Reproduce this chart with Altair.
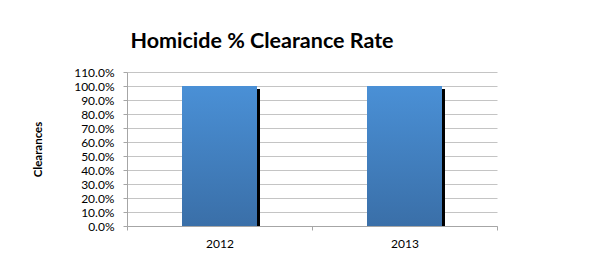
import altair as alt
import pandas as pd

years = ["2012", "2013"]
rates = [1.0, 1.0]

df = pd.DataFrame({"year": years, "rate": rates})

FONT = "Lato"

x = alt.X("year:N", title=None, sort=years,
          scale=alt.Scale(paddingInner=0, paddingOuter=0),
          axis=alt.Axis(labelAngle=0, tickBand="extent", labelPadding=8,
                        tickSize=4, tickColor="#a6a6a6", domainColor="#a6a6a6",
                        labelFontSize=12, labelColor="#000000", labelFont=FONT,
                        grid=False))
y = alt.Y("rate:Q", title="Clearances",
          scale=alt.Scale(domain=[0, 1.1], nice=False),
          axis=alt.Axis(format=".1%", values=[i / 10 for i in range(12)],
                        tickSize=4, tickColor="#a6a6a6", domainColor="#a6a6a6",
                        gridColor="#c4c4c4", labelPadding=9,
                        labelFontSize=12, labelColor="#000000", labelFont=FONT,
                        titleFont=FONT, titleFontSize=11.5, titleFontWeight="bold",
                        titleColor="#000000", titleX=-89, titleY=77,
                        titleAngle=-90, titleBaseline="middle", titleAlign="center"))

shadow = alt.Chart(df).mark_bar(color="#000000", size=75, xOffset=3, yOffset=3,
                                 clip=True).encode(x=x, y=y)

bars = alt.Chart(df).mark_bar(
    size=75,
    color=alt.Gradient(
        gradient="linear", x1=0, y1=0, x2=0, y2=1,
        stops=[alt.GradientStop(color="#4a90d6", offset=0),
               alt.GradientStop(color="#3a6fa8", offset=1)],
    ),
).encode(x=x, y=y)

chart = alt.layer(shadow, bars).properties(
    width=370,
    height=154,
    padding={"left": 119, "top": 64, "right": 95, "bottom": 37},
    autosize=alt.AutoSizeParams(type="none"),
    background="#ffffff",
    title=alt.TitleParams("Homicide % Clearance Rate", font=FONT, fontSize=21.5,
                          fontWeight="bold", color="#000000", anchor="middle",
                          frame="group", dx=-50, offset=14),
).configure_view(stroke=None)

chart.save("out.html", embed_options={"renderer": "svg", "actions": False})
